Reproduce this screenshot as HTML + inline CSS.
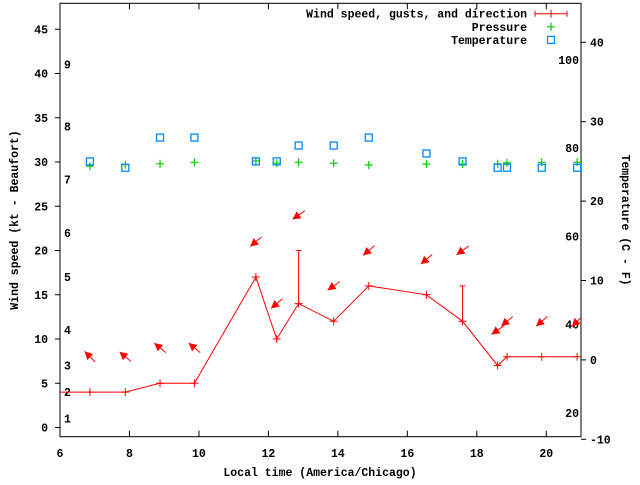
<!DOCTYPE html>
<html><head><meta charset="utf-8"><style>
html,body{margin:0;padding:0;background:#fff;}
svg text{font-family:"Liberation Mono",monospace;font-size:11.5px;font-weight:bold;fill:#000;}
</style></head><body>
<svg id="chart" width="640" height="480" viewBox="0 0 640 480" xmlns="http://www.w3.org/2000/svg">
<defs><clipPath id="plotclip"><rect x="60" y="3" width="521" height="434"/></clipPath></defs>
<g id="axes"></g>
<g id="series" clip-path="url(#plotclip)"></g>
<g id="legend"></g>
</svg>
<script>
const times = [5.5, 6.86, 7.88, 8.88, 9.87, 11.64, 12.24, 12.87, 13.88, 14.89, 16.55, 17.59, 18.60, 18.87, 19.87, 20.89];
const windSpeed = [4, 4, 4, 5, 5, 17, 10, 14, 12, 16, 15, 12, 7, 8, 8, 8];
const windGust = [null, null, null, null, null, null, null, 20, null, null, null, 16, null, null, null, null];
const windFrom = [135, 135, 130, 130, 130, 50, 50, 55, 55, 50, 50, 55, 55, 50, 50, 45];
const pressure = [1014, 1013.7, 1014.2, 1014.5, 1015, 1015.5, 1014.7, 1015, 1014.7, 1014.1, 1014.4, 1014.4, 1014.5, 1014.8, 1015, 1015];
const temperature = [25, 25, 24.2, 28, 28, 25, 25, 27, 27, 28, 26, 25, 24.2, 24.2, 24.2, 24.2];
const xTicks = [6, 8, 10, 12, 14, 16, 18, 20];
const yTicks = [0, 5, 10, 15, 20, 25, 30, 35, 40, 45];
const y2Ticks = [-10, 0, 10, 20, 30, 40];
const fahrenheitLabels = [20, 40, 60, 80, 100];
const beaufortLabels = [1, 2, 3, 4, 5, 6, 7, 8, 9];
const beaufortKt = [1, 4, 7, 11, 17, 22, 28, 34, 41];

const NS = "http://www.w3.org/2000/svg";
const X0 = 60, X1 = 581, YT = 3.3, YB = 436.7;
const xs = t => X0 + (t - 6) * (X1 - X0) / 15;
const ys = v => 427.5 - 8.85 * v;
const yT = c => 42.3 + (40 - c) * 7.94;
const yP = p => 162.3 - (p - 1015) * 3;
function mk(tag, attrs, parent, txt) {
  const e = document.createElementNS(NS, tag);
  for (const k in attrs) e.setAttribute(k, attrs[k]);
  if (txt !== undefined) e.textContent = txt;
  parent.appendChild(e); return e;
}
const axes = document.getElementById('axes');
const series = document.getElementById('series');
const legend = document.getElementById('legend');

let border = mk('rect', {x: X0, y: YT, width: X1 - X0, height: YB - YT, fill: 'none', stroke: '#000', 'stroke-width': 1}, axes);



xTicks.forEach(t => {
  const x = xs(t);
  let tk = mk('path', {d: `M${x},${YB}v-6M${x},${YT}v6`, stroke: '#000'}, axes);
  
  
  let lb = mk('text', {x: x, y: 457, 'text-anchor': 'middle'}, axes, String(t));
  
  
});
yTicks.forEach(v => {
  const y = ys(v);
  let tk = mk('path', {d: `M${X0},${y}h-5`, stroke: '#000'}, axes);
  
  
  let lb = mk('text', {x: 48, y: y + 4, 'text-anchor': 'end'}, axes, String(v));
  
  
});
y2Ticks.forEach(c => {
  const y = yT(c);
  let tk = mk('path', {d: `M${X1},${y}h5`, stroke: '#000'}, axes);
  
  
  let lb = mk('text', {x: 590, y: y + 4}, axes, String(c));
  
  
});
fahrenheitLabels.forEach(f => {
  const y = yT((f - 32) * 5 / 9);
  let lb = mk('text', {x: 579, y: y + 4, 'text-anchor': 'end'}, axes, String(f));
  
  
});
beaufortLabels.forEach((b, i) => {
  const y = ys(beaufortKt[i]);
  let lb = mk('text', {x: 64, y: y + 4}, axes, String(b));
  
  
});
let xt = mk('text', {x: 320, y: 476, 'text-anchor': 'middle'}, axes, 'Local time (America/Chicago)');


let yt = mk('text', {x: 0, y: 0, 'text-anchor': 'middle', transform: 'translate(18,220) rotate(-90)'}, axes, 'Wind speed (kt - Beaufort)');


let y2t = mk('text', {x: 0, y: 0, 'text-anchor': 'middle', transform: 'translate(622,220) rotate(90)'}, axes, 'Temperature (C - F)');



let d = times.map((t, i) => (i ? 'L' : 'M') + xs(t).toFixed(1) + ',' + ys(windSpeed[i]).toFixed(1)).join('');
let wl = mk('path', {d: d, fill: 'none', stroke: '#f00', 'stroke-width': 1}, series);


times.forEach((t, i) => {
  const x = xs(t), y = ys(windSpeed[i]);
  let m = mk('path', {d: `M${x - 4},${y}h8M${x},${y - 4}v8`, stroke: '#f00'}, series);
  
  
  let top = windSpeed[i];
  if (windGust[i] !== null) {
    const yg = ys(windGust[i]);
    let g = mk('path', {d: `M${x},${y}V${yg}M${x - 3},${yg}h6`, stroke: '#f00'}, series);
    
    
    top = windGust[i];
  }
  const ay = ys(top + 4);
  const ang = (windFrom[i] + 180) * Math.PI / 180;
  const ux = Math.sin(ang), uy = -Math.cos(ang);
  const L = 15;
  const hx = x + ux * L / 2, hy = ay + uy * L / 2, tx = x - ux * L / 2, ty = ay - uy * L / 2;
  const px = -uy, py = ux;
  const bx = hx - ux * 8, by = hy - uy * 8;
  let a = mk('g', {}, series);
  
  
  mk('path', {d: `M${tx},${ty}L${hx},${hy}`, stroke: '#f00'}, a);
  mk('path', {d: `M${hx},${hy}L${bx + px * 4.2},${by + py * 4.2}L${bx - px * 4.2},${by - py * 4.2}Z`, fill: '#f00'}, a);
});
times.forEach((t, i) => {
  const x = xs(t), y = yP(pressure[i]);
  let m = mk('path', {d: `M${x - 4},${y}h8M${x},${y - 4}v8`, stroke: '#0c0', 'stroke-width': 1.2}, series);
  
  
});
times.forEach((t, i) => {
  const x = xs(t), y = yT(temperature[i]);
  let m = mk('rect', {x: x - 3.5, y: y - 3.5, width: 7, height: 7, fill: 'none', stroke: '#08f', 'stroke-width': 1.3}, series);
  
  
});

const leg = [['Wind speed, gusts, and direction', 13.7], ['Pressure', 26.8], ['Temperature', 39.9]];
leg.forEach(([txt, y]) => {
  let lt = mk('text', {x: 527, y: y + 4, 'text-anchor': 'end'}, legend, txt);
  
  
});
let s1 = mk('path', {d: 'M535,13.7h32M535,10.7v6M567,10.7v6M551,9.7v8', stroke: '#f00'}, legend);


let s2 = mk('path', {d: 'M547,26.8h8M551,22.8v8', stroke: '#0c0', 'stroke-width': 1.2}, legend);


let s3 = mk('rect', {x: 547.5, y: 36.4, width: 7, height: 7, fill: 'none', stroke: '#08f', 'stroke-width': 1.3}, legend);


</script>
</body></html>
